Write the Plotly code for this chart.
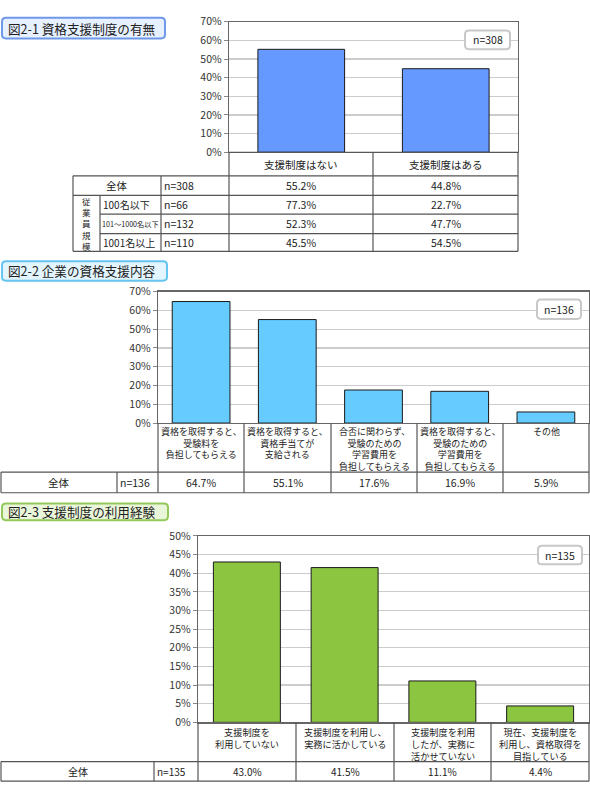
import plotly.graph_objects as go

W, H = 590, 799
FONT = "Noto Sans CJK JP"
TXT = "#222222"
LINE = "#555555"

def px(x):
    return x / W

def py(y):
    return 1 - y / H

# ---------------- data ----------------
p1_title = "図2-1 資格支援制度の有無"
p1_categories = ["支援制度はない", "支援制度はある"]
p1_values = [55.2, 44.8]
p1_n_label = "n=308"
p1_row_labels = ["全体", "100名以下", "101～1000名以下", "1001名以上"]
p1_row_n = ["n=308", "n=66", "n=132", "n=110"]
p1_table = [[55.2, 44.8], [77.3, 22.7], [52.3, 47.7], [45.5, 54.5]]
p1_group_label = "従業員規模"

p2_title = "図2-2 企業の資格支援内容"
p2_categories = [
    "資格を取得すると、\n受験料を\n負担してもらえる",
    "資格を取得すると、\n資格手当てが\n支給される",
    "合否に関わらず、\n受験のための\n学習費用を\n負担してもらえる",
    "資格を取得すると、\n受験のための\n学習費用を\n負担してもらえる",
    "その他",
]
p2_values = [64.7, 55.1, 17.6, 16.9, 5.9]
p2_n_label = "n=136"
p2_row_label = "全体"

p3_title = "図2-3 支援制度の利用経験"
p3_categories = [
    "支援制度を\n利用していない",
    "支援制度を利用し、\n実務に活かしている",
    "支援制度を利用\nしたが、実務に\n活かせていない",
    "現在、支援制度を\n利用し、資格取得を\n目指している",
]
p3_values = [43.0, 41.5, 11.1, 4.4]
p3_n_label = "n=135"
p3_row_label = "全体"

y_ticks_70 = list(range(0, 71, 10))
y_ticks_50 = list(range(0, 51, 5))

# ---------------- layout geometry (pixels) ----------------
panels = [
    dict(cats=p1_categories, vals=p1_values, color="#6699FF", x0=229, x1=518, top=14, bottom=147,
         ymax=70, ticks=y_ticks_70, width=0.6, n=p1_n_label, nbox=(465, 23, 510, 42)),
    dict(cats=p2_categories, vals=p2_values, color="#66CCFF", x0=158, x1=589, top=289, bottom=423,
         ymax=70, ticks=y_ticks_70, width=0.67, n=p2_n_label, nbox=(537, 297, 581, 317)),
    dict(cats=p3_categories, vals=p3_values, color="#8CC540", x0=198, x1=589, top=538, bottom=728,
         ymax=50, ticks=y_ticks_50, width=0.685, n=p3_n_label, nbox=(538, 548, 582, 567)),
]

fig = go.Figure()
layout = dict(
    width=W, height=H, margin=dict(l=0, r=0, t=0, b=0),
    paper_bgcolor="white", plot_bgcolor="white", showlegend=False,
    font=dict(family=FONT, size=11, color=TXT),
)
shapes = []
annotations = []

def rr_path(x0, y0, x1, y1, r):
    return (f"M {px(x0+r)},{py(y0)} L {px(x1-r)},{py(y0)} Q {px(x1)},{py(y0)} {px(x1)},{py(y0+r)} "
            f"L {px(x1)},{py(y1-r)} Q {px(x1)},{py(y1)} {px(x1-r)},{py(y1)} "
            f"L {px(x0+r)},{py(y1)} Q {px(x0)},{py(y1)} {px(x0)},{py(y1-r)} "
            f"L {px(x0)},{py(y0+r)} Q {px(x0)},{py(y0)} {px(x0+r)},{py(y0)} Z")

def hline(x0, x1, y, color=LINE, w=1.2):
    shapes.append(dict(type="line", xref="paper", yref="paper", x0=px(x0), x1=px(x1),
                       y0=py(y), y1=py(y), line=dict(color=color, width=w)))

def vline(x, y0, y1, color=LINE, w=1.2):
    shapes.append(dict(type="line", xref="paper", yref="paper", x0=px(x), x1=px(x),
                       y0=py(y0), y1=py(y1), line=dict(color=color, width=w)))

def text(x, y, s, size=10.5, xanchor="center", yanchor="middle", color=TXT, family=FONT):
    annotations.append(dict(xref="paper", yref="paper", x=px(x), y=py(y), text=s, showarrow=False,
                            xanchor=xanchor, yanchor=yanchor, borderpad=0, align="center",
                            font=dict(family=family, size=size, color=color)))

for i, p in enumerate(panels):
    k = "" if i == 0 else str(i + 1)
    xa, ya = "x" + k, "y" + k
    fig.add_trace(go.Bar(
        x=list(range(len(p["vals"]))), y=p["vals"], xaxis=xa, yaxis=ya,
        marker=dict(color=p["color"], line=dict(color="#1a1a1a", width=1)),
        width=p["width"], hoverinfo="skip",
    ))
    layout["xaxis" + k] = dict(
        domain=[px(p["x0"]), px(p["x1"])], anchor=ya, range=[-0.5, len(p["vals"]) - 0.5],
        showticklabels=False, showgrid=False, zeroline=False, ticks="",
        showline=True, mirror=True, linecolor="#666666", linewidth=1.2, fixedrange=True,
    )
    layout["yaxis" + k] = dict(
        domain=[py(p["bottom"]), py(p["top"])], anchor=xa, range=[0, p["ymax"]],
        tickvals=p["ticks"], ticktext=[f"{t}%" for t in p["ticks"]],
        ticks="outside", ticklen=4, tickcolor="#888888",
        showgrid=True, gridcolor="#cccccc", gridwidth=1.2, zeroline=False,
        showline=True, mirror=True, linecolor="#666666", linewidth=1.2,
        tickfont=dict(family=FONT, size=10.5, color="#333333"), fixedrange=True,
    )
    # n= box
    bx0, by0, bx1, by1 = p["nbox"]
    shapes.append(dict(type="path", xref="paper", yref="paper", path=rr_path(bx0, by0, bx1, by1, 4),
                       fillcolor="white", line=dict(color="#c8c8c8", width=2)))
    text((bx0 + bx1) / 2, (by0 + by1) / 2, p["n"], size=10.5)

# title boxes
titles = [
    (p1_title, (2, 10, 165, 31), "#E6F0FF", "#6F98E8"),
    (p2_title, (2, 258, 167, 278), "#E3F5FF", "#66C4F0"),
    (p3_title, (2, 505, 168, 522), "#EAF6DA", "#93C85A"),
]
for t, (x0, y0, x1, y1), fill, border in titles:
    shapes.append(dict(type="path", xref="paper", yref="paper", path=rr_path(x0, y0, x1, y1, 4),
                       fillcolor=fill, line=dict(color=border, width=2)))
    text(x0 + 5, (y0 + y1) / 2, t, size=12.6, xanchor="left")

# ---------------- table 1 ----------------
c1 = [229, 373, 518]
r1 = [147, 171, 191, 210, 230, 248]
for x in c1:
    vline(x, r1[0], r1[-1])
vline(73, r1[1], r1[-1])
vline(100, r1[2], r1[-1])
vline(161, r1[1], r1[-1])
hline(229, 518, r1[0])
hline(73, 518, r1[1])
hline(73, 518, r1[2])
hline(100, 518, r1[3])
hline(100, 518, r1[4])
hline(73, 518, r1[5])
for j, cat in enumerate(p1_categories):
    text((c1[j] + c1[j + 1]) / 2, (r1[0] + r1[1]) / 2, cat)
for ri, (lab, nn, vals) in enumerate(zip(p1_row_labels, p1_row_n, p1_table)):
    yc = (r1[ri + 1] + r1[ri + 2]) / 2
    if ri == 0:
        text((73 + 161) / 2, yc, lab)
    elif len(lab) >= 8:
        text(101, yc, lab, size=7.2, xanchor="left")
    else:
        text(101.5, yc, lab, size=10, xanchor="left")
    text(163, yc, nn, xanchor="left")
    for j, v in enumerate(vals):
        text((c1[j] + c1[j + 1]) / 2, yc, f"{v:.1f}%")
gy0, gy1 = r1[2], r1[-1]
step = (gy1 - gy0) / len(p1_group_label)
for ci, ch in enumerate(p1_group_label):
    text(86.5, gy0 + step * (ci + 0.5), ch, size=8.5)

# ---------------- table 2 ----------------
c2 = [158, 244, 331, 417, 503, 589]
r2 = [423, 473, 494]
for x in c2:
    vline(x, r2[0], r2[2])
vline(1, r2[1], r2[2])
vline(117, r2[1], r2[2])
hline(1, 589, r2[1])
hline(1, 589, r2[2])
for j, cat in enumerate(p2_categories):
    xc = (c2[j] + c2[j + 1]) / 2
    text(xc, r2[0] + 1, cat.replace("\n", "<br>"), size=9.0, yanchor="top")
yc = (r2[1] + r2[2]) / 2
text((1 + 117) / 2, yc, p2_row_label)
text(119, yc, p2_n_label, xanchor="left")
for j, v in enumerate(p2_values):
    text((c2[j] + c2[j + 1]) / 2, yc, f"{v:.1f}%")

# ---------------- table 3 ----------------
c3 = [198, 296, 394, 491, 589]
r3 = [728, 768, 788]
for x in c3:
    vline(x, r3[0], r3[2])
vline(1, r3[1], r3[2])
vline(154, r3[1], r3[2])
hline(1, 589, r3[1])
hline(1, 589, r3[2])
for j, cat in enumerate(p3_categories):
    xc = (c3[j] + c3[j + 1]) / 2
    text(xc, r3[0] + 1.5, cat.replace("\n", "<br>"), size=9.2, yanchor="top")
yc = (r3[1] + r3[2]) / 2
text((1 + 154) / 2, yc, p3_row_label, size=10)
text(156, yc, p3_n_label, xanchor="left", size=10)
for j, v in enumerate(p3_values):
    text((c3[j] + c3[j + 1]) / 2, yc, f"{v:.1f}%", size=10)

layout["shapes"] = shapes
layout["annotations"] = annotations
fig.update_layout(**layout)
fig.write_html(
    "out.html",
    config={"displayModeBar": False, "staticPlot": True},
    post_script="document.body.style.margin='0';document.body.style.overflow='hidden';"
                "document.documentElement.style.overflow='hidden';",
)
